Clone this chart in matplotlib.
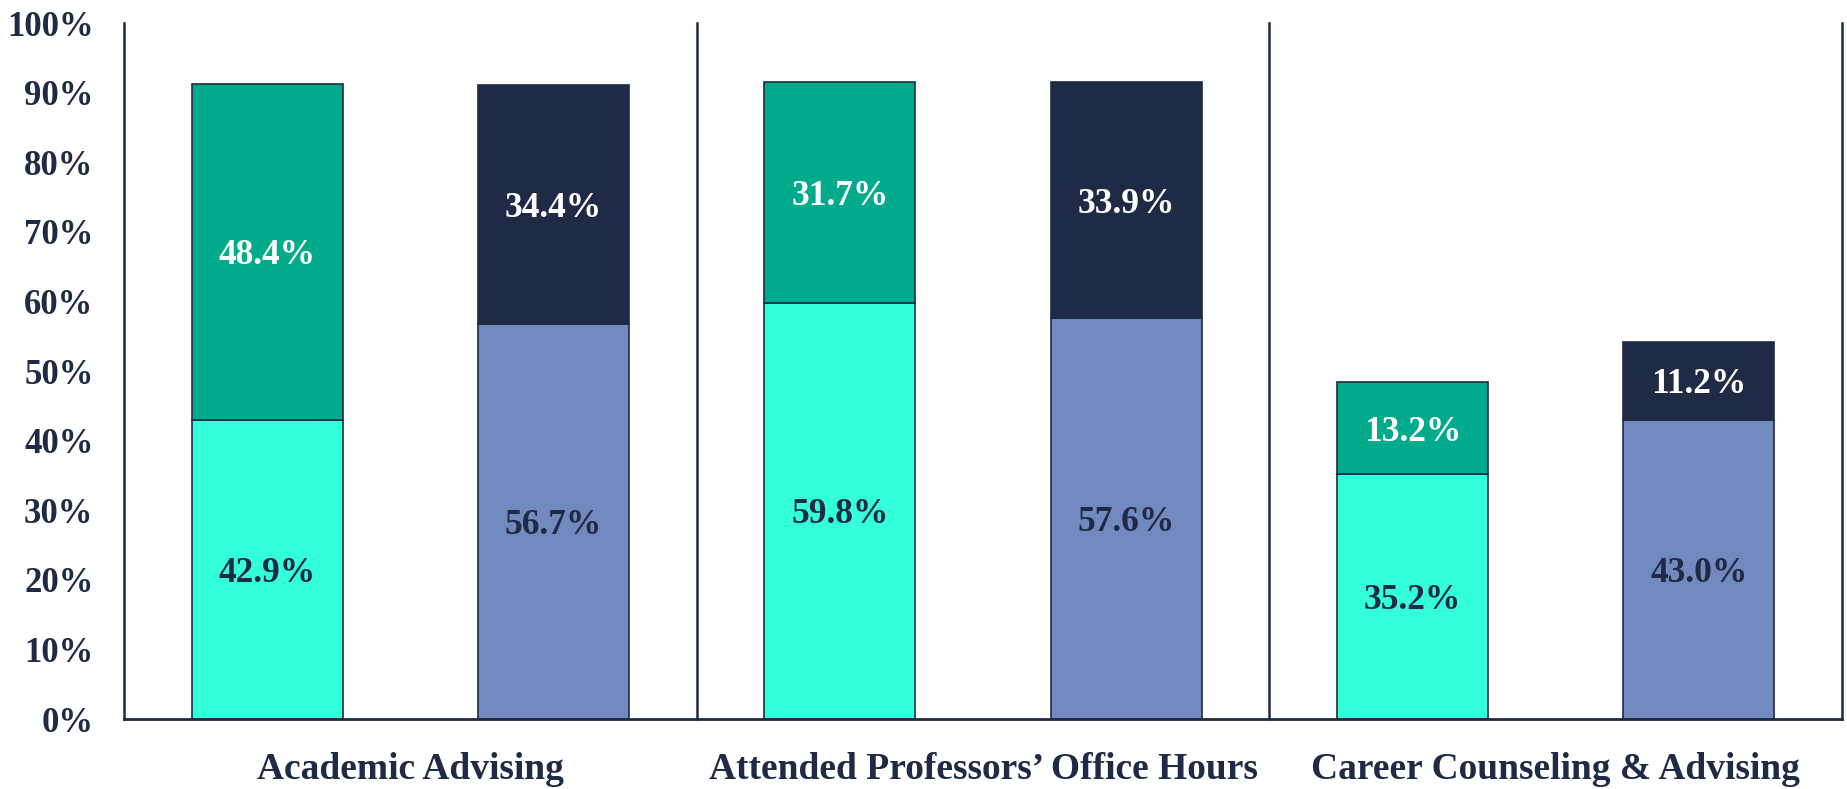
import matplotlib
matplotlib.use("Agg")
import matplotlib.pyplot as plt
import numpy as np

categories = ["Academic Advising", "Attended Professors\u2019 Office Hours", "Career Counseling & Advising"]
teal_bottom = [42.9, 59.8, 35.2]
teal_top = [48.4, 31.7, 13.2]
blue_bottom = [56.7, 57.6, 43.0]
blue_top = [34.4, 33.9, 11.2]
yticks = [0, 10, 20, 30, 40, 50, 60, 70, 80, 90, 100]

NAVY = "#1F2A44"
LIGHT_TEAL = "#33FFDB"
DARK_TEAL = "#00AB8C"
SLATE = "#7289C0"

plt.rcParams['font.family'] = ['Liberation Serif', 'DejaVu Serif']
plt.rcParams['font.weight'] = 'bold'

fig = plt.figure(figsize=(18.47, 7.89), dpi=100)
ax = fig.add_axes([124/1847, 1 - 719/789, (1842-124)/1847, (719-23)/789])

x = np.arange(len(categories))
w = 0.264
off = 0.25

tb = np.array(teal_bottom) / 100
tt = np.array(teal_top) / 100
bb = np.array(blue_bottom) / 100
bt = np.array(blue_top) / 100

ax.bar(x - off, tb, w, color=LIGHT_TEAL, edgecolor=NAVY, linewidth=1.2, zorder=2)
ax.bar(x - off, tt, w, bottom=tb, color=DARK_TEAL, edgecolor=NAVY, linewidth=1.2, zorder=2)
ax.bar(x + off, bb, w, color=SLATE, edgecolor=NAVY, linewidth=1.2, zorder=2)
ax.bar(x + off, bt, w, bottom=bb, color=NAVY, edgecolor=NAVY, linewidth=1.2, zorder=2)

fs = 25.5
va = 'center_baseline'
for i in range(len(categories)):
    ax.text(x[i] - off, tb[i] / 2, f"{teal_bottom[i]:.1f}%", ha='center', va=va,
            color=NAVY, fontsize=fs, fontweight='bold')
    ax.text(x[i] - off, tb[i] + tt[i] / 2, f"{teal_top[i]:.1f}%", ha='center', va=va,
            color='white', fontsize=fs, fontweight='bold')
    ax.text(x[i] + off, bb[i] / 2, f"{blue_bottom[i]:.1f}%", ha='center', va=va,
            color=NAVY, fontsize=fs, fontweight='bold')
    ax.text(x[i] + off, bb[i] + bt[i] / 2, f"{blue_top[i]:.1f}%", ha='center', va=va,
            color='white', fontsize=fs, fontweight='bold')

# separators and side lines
for s in [-0.5, 0.5, 1.5, 2.5]:
    ax.plot([s, s], [0, 1], color=NAVY, linewidth=1.8, zorder=3, clip_on=False)

ax.set_xlim(-0.5, 2.5)
ax.set_ylim(0, 1)
for sp in ['top', 'left', 'right']:
    ax.spines[sp].set_visible(False)
ax.spines['bottom'].set_color(NAVY)
ax.spines['bottom'].set_linewidth(2)
ax.spines['bottom'].set_zorder(4)

ax.set_yticks([v / 100 for v in yticks])
ax.set_yticklabels([f"{v}%" for v in yticks])
ax.set_xticks(x)
ax.set_xticklabels(categories)
ax.tick_params(axis='y', length=0, pad=22, labelsize=25, labelcolor=NAVY)
ax.tick_params(axis='x', length=0, pad=24, labelsize=27, labelcolor=NAVY)
for lab in ax.get_xticklabels() + ax.get_yticklabels():
    lab.set_fontweight('bold')

fig.savefig("out.png", dpi=100)
